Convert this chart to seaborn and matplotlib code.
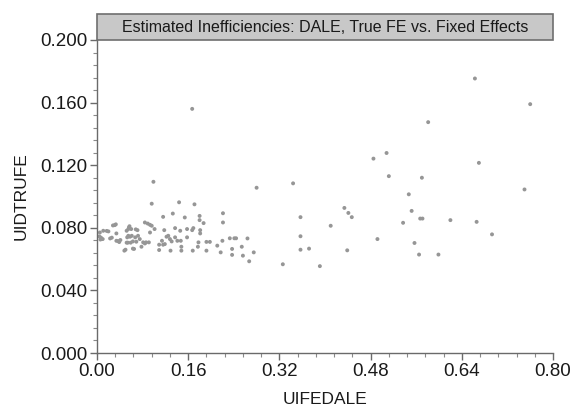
import matplotlib
matplotlib.use("Agg")
import matplotlib.pyplot as plt
from matplotlib.patches import Rectangle
from matplotlib.ticker import MultipleLocator, FormatStrFormatter
import seaborn as sns
import pandas as pd

# UIFEDALE (x) and UIDTRUFE (y) values
uifedale = [
    0.004, 0.006, 0.005, 0.007, 0.010, 0.011, 0.017, 0.020, 0.023, 0.026,
    0.028, 0.031, 0.033, 0.034, 0.034, 0.037, 0.039, 0.041, 0.048, 0.050,
    0.052, 0.052, 0.053, 0.054, 0.055, 0.055, 0.056, 0.057, 0.058, 0.059,
    0.060, 0.061, 0.063, 0.063, 0.065, 0.067, 0.068, 0.069, 0.071, 0.072,
    0.075, 0.078, 0.081, 0.084, 0.084, 0.086, 0.089, 0.091, 0.093, 0.093,
    0.096, 0.096, 0.099, 0.101, 0.109, 0.109, 0.114, 0.116, 0.116, 0.118,
    0.119, 0.122, 0.125, 0.128, 0.129, 0.131, 0.133, 0.137, 0.137, 0.141,
    0.144, 0.146, 0.147, 0.148, 0.148, 0.154, 0.158, 0.158, 0.167, 0.167,
    0.168, 0.169, 0.171, 0.177, 0.178, 0.180, 0.180, 0.181, 0.181, 0.187,
    0.192, 0.192, 0.198, 0.211, 0.217, 0.220, 0.221, 0.221, 0.233, 0.237,
    0.237, 0.241, 0.244, 0.254, 0.256, 0.264, 0.267, 0.275, 0.280,
    0.326, 0.344, 0.357, 0.357, 0.357, 0.372, 0.391, 0.410, 0.434, 0.439,
    0.441, 0.447, 0.485, 0.492, 0.508, 0.512, 0.537, 0.547, 0.552, 0.557,
    0.565, 0.567, 0.571, 0.570, 0.581, 0.599, 0.620, 0.663, 0.666, 0.670,
    0.693, 0.750, 0.760,
]
uidtrufe = [
    0.0745, 0.0725, 0.0770, 0.0737, 0.0728, 0.0781, 0.0780, 0.0777, 0.0732, 0.0737,
    0.0815, 0.0817, 0.0822, 0.0764, 0.0717, 0.0715, 0.0709, 0.0722, 0.0654, 0.0660,
    0.0781, 0.0705, 0.0739, 0.0705, 0.0792, 0.0749, 0.0802, 0.0810, 0.0743, 0.0705,
    0.0792, 0.0749, 0.0713, 0.0667, 0.0665, 0.0739, 0.0790, 0.0711, 0.0785, 0.0749,
    0.0728, 0.0679, 0.0707, 0.0834, 0.0700, 0.0707, 0.0827, 0.0707, 0.0819, 0.0770,
    0.0813, 0.0954, 0.1094, 0.0792, 0.0692, 0.0658, 0.0717, 0.0870, 0.0692, 0.0785,
    0.0696, 0.0743, 0.0749, 0.0728, 0.0654, 0.0713, 0.0891, 0.0798, 0.0739, 0.0717,
    0.0963, 0.0781, 0.0717, 0.0679, 0.0654, 0.0866, 0.0792, 0.0739, 0.1560, 0.0785,
    0.0654, 0.0798, 0.0950, 0.0679, 0.0707, 0.0876, 0.0849, 0.0785, 0.0764, 0.0830,
    0.0710, 0.0654, 0.0710, 0.0686, 0.0643, 0.0717, 0.0893, 0.0834, 0.0733, 0.0665,
    0.0627, 0.0733, 0.0733, 0.0679, 0.0622, 0.0732, 0.0586, 0.0643, 0.1056,
    0.0567, 0.1084, 0.0868, 0.0746, 0.0660, 0.0667, 0.0555, 0.0813, 0.0927, 0.0656,
    0.0895, 0.0868, 0.1242, 0.0728, 0.1278, 0.1130, 0.0832, 0.1014, 0.0908, 0.0703,
    0.0629, 0.0859, 0.0859, 0.1120, 0.1475, 0.0629, 0.0849, 0.1754, 0.0838, 0.1215,
    0.0758, 0.1045, 0.1590,
]
x_ticks = [0.00, 0.16, 0.32, 0.48, 0.64, 0.80]
y_ticks = [0.000, 0.040, 0.080, 0.120, 0.160, 0.200]
title_text = "Estimated Inefficiencies: DALE, True FE vs. Fixed Effects"

df = pd.DataFrame({"UIFEDALE": uifedale, "UIDTRUFE": uidtrufe})

sns.set_style("white")
plt.rcParams["font.family"] = ["Liberation Sans", "DejaVu Sans"]

fig = plt.figure(figsize=(5.74, 4.12), dpi=100)
ax = fig.add_axes([97 / 574, 1 - 353 / 412, (553 - 97) / 574, (353 - 40) / 412])

sns.scatterplot(data=df, x="UIFEDALE", y="UIDTRUFE", ax=ax, s=8,
                color="#969696", edgecolor="none", marker="o")

ax.set_xlim(0, 0.80)
ax.set_ylim(0, 0.200)
ax.set_xticks(x_ticks)
ax.set_yticks(y_ticks)
ax.xaxis.set_major_formatter(FormatStrFormatter("%.2f"))
ax.yaxis.set_major_formatter(FormatStrFormatter("%.3f"))
ax.xaxis.set_minor_locator(MultipleLocator(0.032))
ax.yaxis.set_minor_locator(MultipleLocator(0.008))

for s in ["top", "right"]:
    ax.spines[s].set_visible(False)
for s in ["left", "bottom"]:
    ax.spines[s].set_color("#6a6a6a")
    ax.spines[s].set_linewidth(1.0)

ax.tick_params(which="major", direction="out", length=5, width=1,
               color="#6a6a6a", labelsize=13.5, labelcolor="#1a1a1a",
               left=True, bottom=True, pad=2)
ax.tick_params(which="minor", direction="out", length=3, width=0.8,
               color="#8a8a8a", left=True, bottom=True)

ax.set_xlabel("UIFEDALE", fontsize=12.5, color="#1a1a1a", labelpad=9)
ax.set_ylabel("UIDTRUFE", fontsize=12.5, color="#1a1a1a", labelpad=8)

band_h = 26 / 313
ax.add_patch(Rectangle((0, 1), 1, band_h, transform=ax.transAxes,
                       facecolor="#c8c8c8", edgecolor="#6e6e6e",
                       linewidth=1.2, clip_on=False, zorder=5))
ax.text(0.5, 1 + band_h / 2, title_text, transform=ax.transAxes,
        ha="center", va="center", fontsize=11.5, color="#1a1a1a", zorder=6)

fig.savefig("out.png", dpi=100)
